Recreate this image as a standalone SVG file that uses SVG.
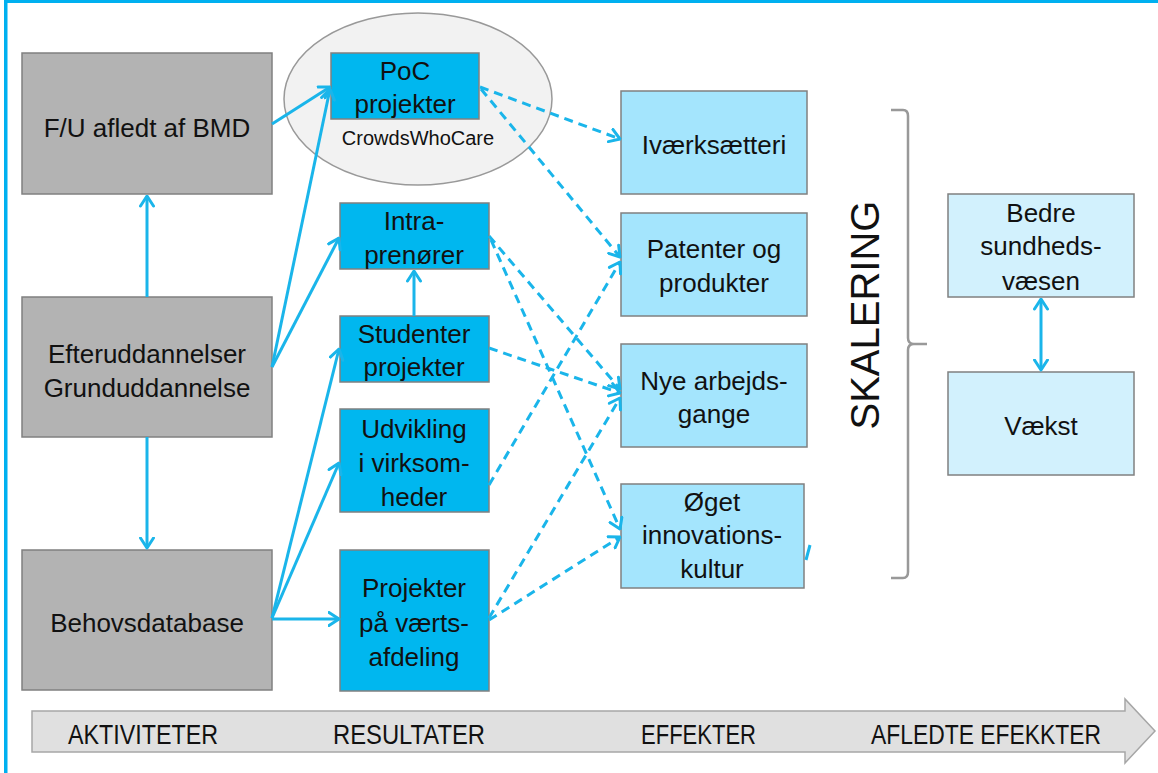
<svg xmlns="http://www.w3.org/2000/svg" width="1158" height="773" viewBox="0 0 1158 773">
  <style>
    .t { font-family: "Liberation Sans", Arial, sans-serif; font-size: 26px; fill: #111; text-anchor: middle; }
    .small { font-size: 20px; }
    .axis { font-family: "Liberation Sans", Arial, sans-serif; font-size: 28px; fill: #111; }
    .gray { fill: #b3b3b3; stroke: #808080; stroke-width: 1.5; }
    .blue { fill: #00b7ef; stroke: #808080; stroke-width: 1.5; }
    .light { fill: #a4e5fd; stroke: #808080; stroke-width: 1.5; }
    .pale { fill: #d2f1fd; stroke: #808080; stroke-width: 1.5; }
    .solid { fill: none; stroke: #1ab5ea; stroke-width: 3; marker-end: url(#chev); }
    .dash { fill: none; stroke: #1ab5ea; stroke-width: 3; stroke-dasharray: 9 6; marker-end: url(#chev); }
  </style>
  <defs>
    <marker id="chev" viewBox="0 0 13 16" refX="11.5" refY="8" markerWidth="13" markerHeight="16" markerUnits="userSpaceOnUse" orient="auto-start-reverse">
      <path d="M1.5,1.5 L11.5,8 L1.5,14.5" fill="none" stroke="#1ab5ea" stroke-width="3" stroke-linecap="round" stroke-linejoin="round"/>
    </marker>
  </defs>

  <rect width="1158" height="773" fill="#ffffff"/>
  <!-- frame edges -->
  <rect x="4" y="0" width="3.5" height="773" fill="#00b0f0"/>
  <rect x="4" y="0" width="1154" height="3" fill="#00b0f0"/>

  <!-- timeline arrow -->
  <g id="timeline">
    <path d="M32,711 L1125,711 L1125,699 L1155,731 L1125,763 L1125,752 L32,752 Z" fill="#e0e0e0" stroke="#a6a6a6" stroke-width="1.5"/>
    <text class="axis" x="68" y="744" textLength="150" lengthAdjust="spacingAndGlyphs">AKTIVITETER</text>
    <text class="axis" x="333" y="744" textLength="152" lengthAdjust="spacingAndGlyphs">RESULTATER</text>
    <text class="axis" x="641" y="744" textLength="115" lengthAdjust="spacingAndGlyphs">EFFEKTER</text>
    <text class="axis" x="871" y="744" textLength="230" lengthAdjust="spacingAndGlyphs">AFLEDTE EFEKKTER</text>
  </g>

  <!-- activities -->
  <g id="fu-bmd">
    <rect class="gray" x="22" y="53" width="250" height="141"/>
    <text class="t" x="147" y="137">F/U afledt af BMD</text>
  </g>
  <g id="uddannelse">
    <rect class="gray" x="22" y="297" width="250" height="140"/>
    <text class="t" x="147" y="363">Efteruddannelser</text>
    <text class="t" x="147" y="397">Grunduddannelse</text>
  </g>
  <g id="behovsdatabase">
    <rect class="gray" x="22" y="550" width="250" height="140"/>
    <text class="t" x="147" y="632">Behovsdatabase</text>
  </g>

  <!-- results -->
  <g id="poc">
    <ellipse cx="418" cy="99" rx="134" ry="86" fill="#f2f2f2" stroke="#999999" stroke-width="1.5"/>
    <rect class="blue" x="331" y="53" width="148" height="66"/>
    <text class="t" x="405" y="80">PoC</text>
    <text class="t" x="405" y="113">projekter</text>
    <text class="t small" x="418" y="145">CrowdsWhoCare</text>
  </g>
  <g id="intra">
    <rect class="blue" x="340" y="203" width="149" height="66"/>
    <text class="t" x="414" y="230">Intra-</text>
    <text class="t" x="414" y="264">prenører</text>
  </g>
  <g id="studenter">
    <rect class="blue" x="340" y="316" width="149" height="66"/>
    <text class="t" x="414" y="343">Studenter</text>
    <text class="t" x="414" y="376">projekter</text>
  </g>
  <g id="udvikling">
    <rect class="blue" x="340" y="409" width="149" height="103"/>
    <text class="t" x="414" y="438">Udvikling</text>
    <text class="t" x="414" y="472">i virksom-</text>
    <text class="t" x="414" y="506">heder</text>
  </g>
  <g id="vaertsafdeling">
    <rect class="blue" x="340" y="550" width="149" height="141"/>
    <text class="t" x="414" y="597">Projekter</text>
    <text class="t" x="414" y="632">på værts-</text>
    <text class="t" x="414" y="666">afdeling</text>
  </g>

  <!-- effects -->
  <g id="ivaerksaetteri">
    <rect class="light" x="621" y="91" width="186" height="103"/>
    <text class="t" x="714" y="154">Iværksætteri</text>
  </g>
  <g id="patenter">
    <rect class="light" x="621" y="213" width="186" height="103"/>
    <text class="t" x="714" y="258">Patenter og</text>
    <text class="t" x="714" y="292">produkter</text>
  </g>
  <g id="arbejdsgange">
    <rect class="light" x="621" y="344" width="186" height="103"/>
    <text class="t" x="714" y="390">Nye arbejds-</text>
    <text class="t" x="714" y="423">gange</text>
  </g>
  <g id="innovation">
    <rect class="light" x="621" y="484" width="183" height="104"/>
    <text class="t" x="712" y="511">Øget</text>
    <text class="t" x="712" y="544">innovations-</text>
    <text class="t" x="712" y="578">kultur</text>
  </g>

  <!-- scaling brace -->
  <g id="skalering">
    <path d="M891,110 L903,110 Q908,110 908,116 L908,338 Q908,344 914,344 L927,344 M914,344 Q908,344 908,350 L908,572 Q908,578 903,578 L891,578" fill="none" stroke="#999999" stroke-width="2.5"/>
    <text x="0" y="0" transform="translate(879,315) rotate(-90)" font-family="'Liberation Sans', Arial, sans-serif" font-size="40" fill="#111" text-anchor="middle">SKALERING</text>
  </g>

  <!-- derived effects -->
  <g id="sundhedsvaesen">
    <rect class="pale" x="948" y="194" width="186" height="103"/>
    <text class="t" x="1041" y="222">Bedre</text>
    <text class="t" x="1041" y="255">sundheds-</text>
    <text class="t" x="1041" y="290">væsen</text>
  </g>
  <g id="vaekst">
    <rect class="pale" x="948" y="372" width="186" height="103"/>
    <text class="t" x="1041" y="435">Vækst</text>
  </g>

  <g id="connectors">
    <!-- solid links -->
    <line class="solid" x1="147" y1="297" x2="147" y2="196"/>
    <line class="solid" x1="147" y1="437" x2="147" y2="548"/>
    <line class="solid" x1="272" y1="124" x2="330" y2="87"/>
    <line class="solid" x1="272" y1="367" x2="330" y2="89"/>
    <line class="solid" x1="272" y1="367" x2="339" y2="238"/>
    <line class="solid" x1="414" y1="316" x2="414" y2="271"/>
    <line class="solid" x1="272" y1="618" x2="339" y2="349"/>
    <line class="solid" x1="272" y1="618" x2="339" y2="463"/>
    <line class="solid" x1="272" y1="619" x2="339" y2="619"/>
    <line class="solid" x1="1041" y1="299" x2="1041" y2="370" marker-start="url(#chev)"/>
    <line x1="806" y1="560" x2="810" y2="545" stroke="#1ab5ea" stroke-width="3"/>
    <!-- dashed links -->
    <line class="dash" x1="480" y1="87" x2="620" y2="139"/>
    <line class="dash" x1="481" y1="89" x2="620" y2="257"/>
    <line class="dash" x1="489" y1="236" x2="620" y2="389"/>
    <line class="dash" x1="491" y1="240" x2="620" y2="529"/>
    <line class="dash" x1="489" y1="348" x2="620" y2="393"/>
    <line class="dash" x1="489" y1="485" x2="620" y2="262"/>
    <line class="dash" x1="489" y1="618" x2="620" y2="398"/>
    <line class="dash" x1="489" y1="620" x2="620" y2="537"/>
  </g>
</svg>
